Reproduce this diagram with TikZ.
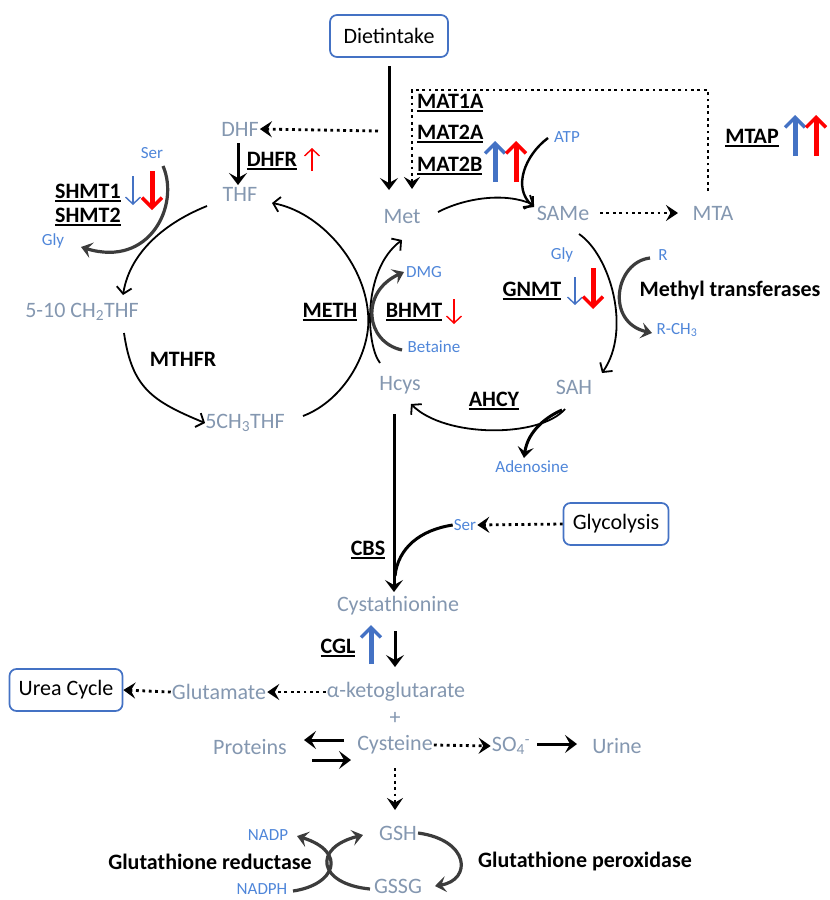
\documentclass[tikz,border=0pt]{standalone}
\usepackage{fontspec}
\setmainfont{Carlito}
\usetikzlibrary{arrows.meta}
\definecolor{metgray}{HTML}{8497B0}
\definecolor{lblue}{HTML}{4F86D9}
\definecolor{ablue}{HTML}{4472C4}
\definecolor{darkg}{HTML}{3C3C3C}
\newcommand{\undl}[1]{\setbox0\hbox{#1}\leavevmode\rlap{\rule[-3.4pt]{\wd0}{1.9pt}}\box0}
\tikzset{
  met/.style={text=metgray,font=\fontsize{22}{25}\selectfont,inner sep=1pt},
  sm/.style={text=lblue,font=\fontsize{17}{20}\selectfont,inner sep=1pt},
  enz/.style={font=\fontsize{22}{25}\selectfont\bfseries,inner sep=1pt},
  boxn/.style={draw=ablue,line width=1.7pt,rounded corners=7pt,font=\fontsize{22}{25}\selectfont,minimum height=42pt,inner sep=0pt},
  thinarr/.style={line width=1.8pt,-{Straight Barb[length=6.5pt,width=15pt]}},
  thickarr/.style={line width=3pt,-{Stealth[length=12pt,width=18pt,inset=5pt]}},
  grayarr/.style={draw=darkg,line width=3.2pt,-{Stealth[length=11pt,width=16pt,inset=4.5pt]}},
  dotarr/.style={line width=2.8pt,dash pattern=on 2.8pt off 3.6pt,-{Stealth[length=12pt,width=16pt,inset=4.5pt]}},
  indic/.style={line width=5pt,-{Straight Barb[length=10pt,width=20pt,line width=3.5pt]}},
  indthin/.style={line width=1.4pt,-{Straight Barb[length=7pt,width=15pt]}},
}
\begin{document}
\begin{tikzpicture}[x=1pt,y=-1pt]
\useasboundingbox (0,0) rectangle (830,900);
% ---------- nodes ----------
\node[boxn,minimum width=118pt] (diet) at (389,36) {Dietintake};
\node[met] (DHF) at (240,129) {DHF};
\node[met] (THF) at (240,194) {THF};
\node[enz] (DHFR) at (272,161) {\undl{DHFR}};
\node[sm] (ser1) at (152,153) {Ser};
\node[enz,anchor=west] (SHMT1) at (54,193) {\undl{SHMT1}};
\node[enz,anchor=west] (SHMT2) at (54,217) {\undl{SHMT2}};
\node[sm] (gly1) at (53,241) {Gly};
\node[met] (CH2THF) at (82,312) {5-10 CH\textsubscript{2}THF};
\node[enz] (MTHFR) at (183,359) {MTHFR};
\node[met] (CH3THF) at (245,423) {5CH\textsubscript{3}THF};
\node[enz] (METH) at (330,312) {\undl{METH}};
\node[enz] (BHMT) at (414,312) {\undl{BHMT}};
\node[sm] (DMG) at (424,272) {DMG};
\node[sm] (bet) at (434,347) {Betaine};
\node[met] (Met) at (402,217) {Met};
\node[met] (SAMe) at (563,213) {SAMe};
\node[met] (MTA) at (713,213) {MTA};
\node[enz,anchor=west] (MAT1A) at (416,103) {\undl{MAT1A}};
\node[enz,anchor=west] (MAT2A) at (416,134) {\undl{MAT2A}};
\node[enz,anchor=west] (MAT2B) at (416,166) {\undl{MAT2B}};
\node[sm] (ATP) at (567,137) {ATP};
\node[enz] (MTAP) at (752,138) {\undl{MTAP}};
\node[sm] (gly2) at (562,255) {Gly};
\node[enz] (GNMT) at (532,291) {\undl{GNMT}};
\node[sm] (R) at (663,255) {R};
\node[sm] (RCH3) at (677,330) {R-CH\textsubscript{3}};
\node[enz] (MT) at (730,291) {Methyl transferases};
\node[met] (Hcys) at (400,385) {Hcys};
\node[met] (SAH) at (574,387) {SAH};
\node[enz] (AHCY) at (494,401) {\undl{AHCY}};
\node[sm] (aden) at (532,467) {Adenosine};
\node[enz] (CBS) at (368,550) {\undl{CBS}};
\node[sm] (ser2) at (465,525) {Ser};
\node[boxn,minimum width=105pt] (glyc) at (616,524) {Glycolysis};
\node[met] (cysta) at (398,606) {Cystathionine};
\node[enz] (CGL) at (338,648) {\undl{CGL}};
\node[boxn,minimum width=113pt] (urea) at (66,690) {Urea Cycle};
\node[met] (glu) at (219,692) {Glutamate};
\node[met] (akg) at (396,692) {α-ketoglutarate};
\node[met] (plus) at (395,718) {+};
\node[met] (prot) at (250,747) {Proteins};
\node[met] (cys) at (395,745) {Cysteine};
\node[met] (so4) at (511,746) {SO\textsubscript{4}\textsuperscript{-}};
\node[met] (urine) at (617,746) {Urine};
\node[met] (GSH) at (398,833) {GSH};
\node[met] (GSSG) at (398,886) {GSSG};
\node[sm] (NADP) at (268,835) {NADP};
\node[sm] (NADPH) at (262,889) {NADPH};
\node[enz] (GR) at (210,862) {Glutathione reductase};
\node[enz] (GP) at (585,862) {Glutathione peroxidase};

% ---------- coordinates ----------
\coordinate (dietb) at (389,66);
\coordinate (metin1) at (389,190);
\coordinate (metin2) at (412,189);
\coordinate (brTL) at (412,90);
\coordinate (brTR) at (708,90);
\coordinate (brB) at (708,191);
\coordinate (dhfsrc) at (378,131);
\coordinate (cbsjoin) at (395,576);

% ---------- folate cycle ----------
\draw[dotarr] (dhfsrc) -- (DHF.east);
\draw[thickarr] (238,143) -- (238,185);
\draw[thinarr] (207,206) .. controls (167,222) and (130,251) .. (123,295);
\draw[thinarr] (124,333) .. controls (132,388) and (152,401) .. (205,423);
\draw[thinarr] (303,416) .. controls (345,400) and (372,350) .. (368,313) .. controls (364,262) and (320,212) .. (272,203);
\draw[grayarr] (163,166) .. controls (180,205) and (150,268) .. (81,247);

% ---------- methionine cycle ----------
\draw[thickarr] (dietb) -- (metin1);
\draw[dotarr] (brB) -- (brTR) -- (brTL) -- (metin2);
\draw[thinarr] (438,212) .. controls (465,198) and (505,192) .. (534,205);
\draw[line width=2.4pt,-{Straight Barb[length=6.5pt,width=15pt]}] (548,138) .. controls (525,155) and (512,188) .. (534,207);
\draw[dotarr] (600,213) -- (678,213);
\draw[thinarr] (579,234) .. controls (610,255) and (632,330) .. (602,373);
\draw[grayarr] (650,258) .. controls (615,262) and (605,322) .. (652,333);
\draw[thinarr] (565,409) .. controls (540,438) and (445,438) .. (411,404);
\draw[line width=3pt,-{Stealth[length=11pt,width=16pt,inset=4.5pt]}] (562,410) .. controls (548,416) and (528,430) .. (524,458);
\draw[thinarr] (380,363) .. controls (366,345) and (362,270) .. (402,240);
\draw[grayarr] (402,350) .. controls (365,342) and (360,292) .. (404,272);

% ---------- transsulfuration ----------
\draw[thickarr] (394,414) -- (394,592);
\draw[line width=3pt] (ser2.west) .. controls (420,530) and (398,548) .. (cbsjoin);
\draw[dotarr] (glyc.west) -- (ser2.east);
\draw[thickarr] (395,631) -- (395,667);
\draw[ablue,indic] (371,664) -- (371,625);
\draw[dotarr] (glu.west) -- (urea.east);
\draw[dotarr] (akg.west) -- (glu.east);
\draw[thickarr] (344,740) -- (304,740);
\draw[thickarr] (312,760) -- (351,760);
\draw[dotarr] (cys.east) -- (so4.west);
\draw[thickarr] (537,744) -- (577,744);
\draw[dotarr] (395,768) -- (395,810);

% ---------- glutathione ----------
\draw[grayarr] (293,891) .. controls (335,885) and (348,852) .. (297,836);
\draw[grayarr] (370,889) .. controls (318,884) and (312,848) .. (363,835);
\draw[grayarr] (GSH.east) .. controls (470,840) and (472,880) .. (435,886);

% ---------- indicator arrows ----------
\draw[red,indthin] (312,171) -- (312,148);
\draw[ablue,indthin] (133,176) -- (133,205);
\draw[red,indic] (152,171) -- (152,210);
\draw[ablue,indic] (495,182) -- (495,141);
\draw[red,indic] (516,182) -- (516,141);
\draw[ablue,indic] (795,156) -- (795,115);
\draw[red,indic] (816,156) -- (816,115);
\draw[ablue,indthin] (575,277) -- (575,305);
\draw[red,indic] (593,268) -- (593,309);
\draw[red,indthin] (454,299) -- (454,324);
\end{tikzpicture}
\end{document}
